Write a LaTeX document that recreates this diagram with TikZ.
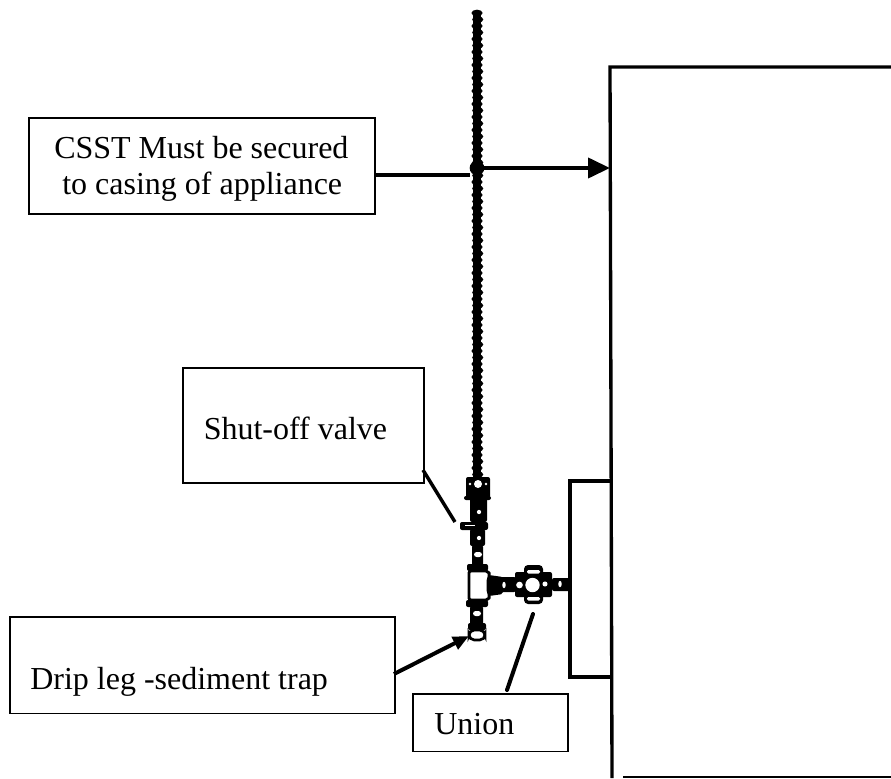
\documentclass[tikz,border=0pt]{standalone}
\usepackage{fontspec}
\setmainfont{Liberation Serif}
\usetikzlibrary{arrows.meta}
\tikzset{
 lab/.style={draw=black,line width=1.2pt,fill=white,inner sep=0pt,anchor=north west},
 txt/.style={font=\fontsize{24pt}{27pt}\selectfont,inner sep=0pt,anchor=base west},
 lead/.style={line width=2.6pt},
 wall/.style={line width=2.5pt},
 ft/.style={draw=black,line width=2.2pt,fill=white,rounded corners=1.5pt},
 blk/.style={fill=black,rounded corners=1.5pt}
}
\begin{document}
\begin{tikzpicture}[x=0.75pt,y=-0.75pt]
\useasboundingbox (0,0) rectangle (891,778);
% appliance
\draw[wall] (891,67) -- (610,67) -- (612,778);
\draw[line width=1.6pt] (623,777) -- (891,777);
\draw[wall] (610,481) -- (570,481) -- (570,677) -- (611,677);
% corrugated pipe
\coordinate (pt) at (477,12);
\coordinate (pb) at (477,477);
\draw[line width=6pt] (pt) -- (pb);
\foreach \k in {0,...,71} {
  \fill ({477+0.7*mod(\k,2)},{13+6.5*\k}) ellipse (4.2pt and 2.5pt);
}
% text boxes
\node[lab,minimum width=259.5pt,minimum height=72pt] (csst) at (28,117) {};
\node[txt] at (54,158) {CSST Must be secured};
\node[txt] at (62,194) {to casing of appliance};
\node[lab,minimum width=180.75pt,minimum height=86.25pt] (shut) at (182,367) {};
\node[txt] at (203.5,439) {Shut-off valve};
\node[lab,minimum width=288.75pt,minimum height=72.5pt] (drip) at (9,616) {};
\node[txt] at (30,689) {Drip leg -sediment trap};
\node[lab,minimum width=116.25pt,minimum height=43.25pt] (union) at (412,693) {};
\node[txt] at (434,734) {Union};
% leaders
\coordinate (c1) at (470,175);
\coordinate (a1) at (477,168);
\coordinate (a2) at (610,168);
\coordinate (s1) at (423,470);
\coordinate (s2) at (455,522);
\coordinate (d1) at (394,674);
\coordinate (d2) at (469,636);
\coordinate (u1) at (507,690);
\coordinate (u2) at (533,614);
\draw[lead] (csst.east |- c1) -- (c1);
\draw[line width=3pt,-{Triangle[length=16.5pt,width=15pt]}] (a1) -- (a2);
\fill (477,168) circle (5.5pt);
\draw[lead] (s1) -- (s2);
\draw[line width=3pt,-{Triangle[length=12pt,width=10pt]}] (d1) -- (d2);
\draw[line width=3pt,line cap=round] (u1) -- (u2);
% valve
\fill[blk] (466,477) rectangle (490,498);
\fill[white] (478,484) circle (3pt);
\fill[white] (470,484) circle (1.1pt);
\fill[white] (486,484) circle (1.1pt);
\fill[blk] (464,496) rectangle (491,500);
\fill[blk] (470,498) rectangle (487,522);
\fill[white] (479,512) circle (1.6pt);
\fill[blk] (460,522) rectangle (488,530);
\fill[white] (465,525) rectangle (475,526.3);
\fill[blk] (470,529) rectangle (485,546);
\fill[white] (479,538) circle (1.6pt);
\fill[blk] (472,545) rectangle (483,566);
\fill[white,rounded corners=2pt] (474,552) rectangle (482,557);
\fill[blk] (467,564) rectangle (488,571);
% tee
\draw[ft] (469,571) -- (488,571) -- (490,575) -- (488,579) -- (488,592) -- (490,596) -- (488,600) -- (469,600) -- cycle;
\fill[blk] (489,575) -- (503,577) -- (503,594) -- (489,596) -- cycle;
% horizontal run
\fill[blk] (495,577) rectangle (516,592);
\fill[white] (504,585) ellipse (1.3pt and 2.4pt);
\fill[blk] (515,572) rectangle (552,597);
\fill[blk,rounded corners=3pt] (524,565) rectangle (543,604);
\fill[white] (532.5,585) circle (5.4pt);
\fill[white] (519.5,585) circle (2.5pt);
\fill[white] (545,584) circle (1.9pt);
\fill[white,rounded corners=1pt] (527,570) rectangle (540,573.5);
\fill[white,rounded corners=1pt] (527,597) rectangle (540,600.5);
\fill[blk] (552,578) rectangle (570,591);
\fill[white] (560,584) ellipse (1.3pt and 2.4pt);
% drip leg
\fill[blk] (466,600) rectangle (488,607);
\fill[blk] (470,606) rectangle (483,626);
\fill[white,rounded corners=2pt] (473,611) rectangle (481,616);
\fill[blk] (468,623) rectangle (486,630);
\draw[draw=black,line width=2pt,fill=white,rounded corners=4pt] (469,630) rectangle (485,640);
\end{tikzpicture}
\end{document}
